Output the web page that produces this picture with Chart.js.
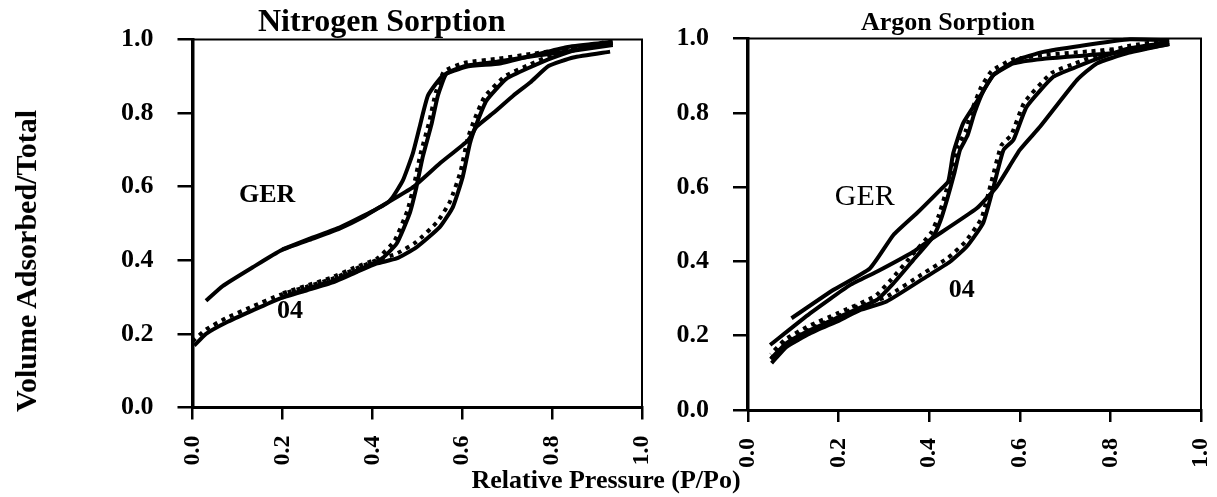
<!DOCTYPE html>
<html>
<head>
<meta charset="utf-8">
<script src="https://cdn.jsdelivr.net/npm/chart.js@4.4.1/dist/chart.umd.min.js"></script>
<style>
  body { margin: 0; background: #fff; }
  #wrap { position: relative; width: 1217px; height: 497px; overflow: hidden; font-family: "Liberation Serif", serif; color: #000; }
  .box { position: absolute; top: 0; }
  .txt { position: absolute; font-weight: bold; white-space: nowrap; line-height: 1; }
</style>
</head>
<body>
<div id="wrap">
  <div class="box" style="left:0;width:660px;height:497px"><canvas id="nitro"></canvas></div>
  <div class="box" style="left:660px;width:557px;height:497px"><canvas id="argon"></canvas></div>
  <div class="txt" id="t1" style="font-size:32px">Nitrogen Sorption</div>
  <div class="txt" id="t2" style="font-size:26px">Argon Sorption</div>
  <div class="txt" id="xt" style="font-size:26px">Relative Pressure (P/Po)</div>
  <div class="txt" id="yt" style="font-size:30px">Volume Adsorbed/Total</div>
</div>
<script>
// Nitrogen sorption, sample GER
var n2GerAdsP = [0.03, 0.067, 0.134, 0.197, 0.268, 0.327, 0.379, 0.423, 0.49, 0.55, 0.613, 0.632, 0.669, 0.714, 0.752, 0.792, 0.847, 0.929];
var n2GerAdsV = [0.29, 0.33, 0.381, 0.427, 0.459, 0.486, 0.517, 0.549, 0.598, 0.663, 0.726, 0.763, 0.80, 0.848, 0.884, 0.928, 0.951, 0.967];
var n2GerDesP = [0.935, 0.906, 0.832, 0.758, 0.684, 0.609, 0.557, 0.524, 0.505, 0.49, 0.468, 0.445, 0.431, 0.379, 0.327, 0.268, 0.2];
var n2GerDesV = [0.994, 0.99, 0.979, 0.957, 0.935, 0.926, 0.902, 0.848, 0.761, 0.69, 0.617, 0.571, 0.554, 0.52, 0.489, 0.462, 0.43];
// Nitrogen sorption, sample 04 (solid and dashed runs)
var n2S04AdsP = [0.004, 0.03, 0.075, 0.134, 0.194, 0.253, 0.312, 0.365, 0.409, 0.454, 0.498, 0.55, 0.579, 0.601, 0.617, 0.632, 0.654, 0.698, 0.75, 0.802, 0.862, 0.935];
var n2S04AdsV = [0.168, 0.2, 0.231, 0.264, 0.296, 0.318, 0.34, 0.368, 0.391, 0.405, 0.435, 0.49, 0.544, 0.626, 0.717, 0.771, 0.834, 0.893, 0.924, 0.951, 0.975, 0.99];
var n2S04DesP = [0.935, 0.85, 0.76, 0.68, 0.609, 0.565, 0.546, 0.532, 0.512, 0.498, 0.483, 0.454, 0.416, 0.365, 0.312, 0.253, 0.2];
var n2S04DesV = [0.985, 0.97, 0.955, 0.94, 0.929, 0.907, 0.848, 0.771, 0.68, 0.598, 0.527, 0.445, 0.399, 0.372, 0.344, 0.322, 0.30];
var n2S04bAdsP = [0.0, 0.03, 0.075, 0.134, 0.194, 0.253, 0.312, 0.365, 0.409, 0.454, 0.498, 0.545, 0.573, 0.596, 0.612, 0.627, 0.65, 0.695, 0.75, 0.80, 0.86, 0.93];
var n2S04bAdsV = [0.18, 0.212, 0.243, 0.275, 0.306, 0.328, 0.35, 0.378, 0.40, 0.418, 0.45, 0.505, 0.56, 0.64, 0.73, 0.782, 0.845, 0.9, 0.932, 0.958, 0.98, 0.995];
var n2S04bDesP = [0.93, 0.85, 0.76, 0.68, 0.606, 0.56, 0.541, 0.527, 0.507, 0.493, 0.478, 0.449, 0.411, 0.36, 0.307, 0.25, 0.2];
var n2S04bDesV = [0.99, 0.977, 0.962, 0.948, 0.937, 0.914, 0.855, 0.778, 0.688, 0.606, 0.535, 0.452, 0.405, 0.38, 0.352, 0.33, 0.31];

// Argon sorption, sample GER
var arGerAdsP = [0.049, 0.137, 0.225, 0.284, 0.365, 0.402, 0.505, 0.549, 0.60, 0.645, 0.726, 0.77, 0.836, 0.93];
var arGerAdsV = [0.175, 0.26, 0.336, 0.372, 0.426, 0.458, 0.543, 0.601, 0.70, 0.763, 0.888, 0.933, 0.96, 0.985];
var arGerDesP = [0.93, 0.843, 0.733, 0.652, 0.593, 0.542, 0.512, 0.475, 0.453, 0.442, 0.424, 0.372, 0.321, 0.269, 0.188, 0.096];
var arGerDesV = [0.995, 0.998, 0.98, 0.964, 0.942, 0.902, 0.843, 0.772, 0.691, 0.615, 0.592, 0.529, 0.471, 0.381, 0.323, 0.247];
// Argon sorption, sample 04 (solid and dashed runs)
var arS04AdsP = [0.052, 0.085, 0.137, 0.203, 0.247, 0.306, 0.394, 0.446, 0.483, 0.519, 0.542, 0.564, 0.586, 0.615, 0.674, 0.726, 0.784, 0.843, 0.93];
var arS04AdsV = [0.126, 0.17, 0.206, 0.242, 0.269, 0.292, 0.359, 0.399, 0.44, 0.503, 0.601, 0.70, 0.727, 0.816, 0.897, 0.924, 0.951, 0.974, 0.99];
var arS04DesP = [0.93, 0.84, 0.75, 0.65, 0.586, 0.542, 0.52, 0.50, 0.485, 0.468, 0.455, 0.439, 0.425, 0.409, 0.365, 0.321, 0.284, 0.2, 0.137, 0.085, 0.052];
var arS04DesV = [0.985, 0.965, 0.955, 0.945, 0.933, 0.902, 0.86, 0.80, 0.74, 0.70, 0.635, 0.565, 0.51, 0.467, 0.404, 0.341, 0.296, 0.25, 0.215, 0.18, 0.14];
var arS04bAdsP = [0.05, 0.083, 0.135, 0.2, 0.244, 0.303, 0.39, 0.442, 0.479, 0.515, 0.537, 0.559, 0.581, 0.61, 0.67, 0.722, 0.78, 0.84, 0.925];
var arS04bAdsV = [0.137, 0.181, 0.217, 0.253, 0.28, 0.303, 0.37, 0.41, 0.452, 0.515, 0.613, 0.712, 0.74, 0.828, 0.907, 0.933, 0.959, 0.98, 0.995];
var arS04bDesP = [0.925, 0.84, 0.75, 0.65, 0.583, 0.538, 0.515, 0.495, 0.48, 0.463, 0.45, 0.434, 0.42, 0.404, 0.36, 0.316, 0.28, 0.197, 0.134, 0.082, 0.05];
var arS04bDesV = [0.99, 0.975, 0.965, 0.955, 0.943, 0.913, 0.87, 0.81, 0.75, 0.71, 0.645, 0.575, 0.52, 0.477, 0.414, 0.351, 0.306, 0.26, 0.226, 0.19, 0.15];

var xTicks = [0, 0.2, 0.4, 0.6, 0.8, 1.0];
var yTicks = [0, 0.2, 0.4, 0.6, 0.8, 1.0];

var n2Notes = [
  { text: 'GER', x: 0.166, y: 0.558, font: 'bold 26px "Liberation Serif"' },
  { text: '04', x: 0.217, y: 0.243, font: 'bold 26px "Liberation Serif"' }
];
var arNotes = [
  { text: 'GER', x: 0.258, y: 0.552, font: '30px "Liberation Serif"' },
  { text: '04', x: 0.472, y: 0.304, font: 'bold 26px "Liberation Serif"' }
];

function pts(xs, ys) {
  return xs.map(function(x, i) { return { x: x, y: ys[i] }; });
}

function solid(xs, ys) {
  return { data: pts(xs, ys), showLine: true, borderColor: '#000', borderWidth: 4,
           pointRadius: 0, tension: 0.15, clip: 8 };
}

function dashed(xs, ys) {
  return { data: pts(xs, ys), showLine: true, borderColor: '#000', borderWidth: 4,
           borderDash: [4, 5], borderCapStyle: 'butt', pointRadius: 0, tension: 0.15, clip: 8 };
}

var framePlugin = {
  id: 'frame',
  afterDraw: function(chart, args, opts) {
    var a = chart.chartArea, ctx = chart.ctx;
    ctx.save();
    ctx.strokeStyle = '#000';
    ctx.lineWidth = 2;
    ctx.beginPath();
    ctx.moveTo(a.left, a.top);
    ctx.lineTo(a.right, a.top);
    ctx.lineTo(a.right, a.bottom);
    ctx.stroke();
    ctx.fillStyle = '#000';
    ctx.textAlign = 'center';
    ctx.textBaseline = 'alphabetic';
    opts.notes.forEach(function(n) {
      ctx.font = n.font;
      ctx.fillText(n.text, chart.scales.x.getPixelForValue(n.x), chart.scales.y.getPixelForValue(n.y));
    });
    ctx.restore();
  }
};

function makeChart(id, sets, notes, yWidth, xHeight, padTop, padRight) {
  var font = { family: 'Liberation Serif', weight: 'bold' };
  return new Chart(document.getElementById(id), {
    type: 'scatter',
    data: { datasets: sets },
    options: {
      responsive: true,
      maintainAspectRatio: false,
      animation: false,
      layout: { padding: { top: padTop, right: padRight, bottom: 0, left: 0 } },
      plugins: { legend: { display: false }, tooltip: { enabled: false }, frame: { notes: notes } },
      scales: {
        x: {
          type: 'linear', min: 0, max: 1,
          afterBuildTicks: function(s) { s.ticks = xTicks.map(function(v) { return { value: v }; }); },
          afterFit: function(s) { s.height = xHeight; s.paddingLeft = 0; s.paddingRight = 0; },
          ticks: { callback: function(v) { return v.toFixed(1); }, minRotation: 90, maxRotation: 90,
                   autoSkip: false, padding: 16, color: '#000', font: Object.assign({ size: 24 }, font) },
          grid: { drawOnChartArea: false, drawTicks: true, tickLength: 12, tickColor: '#000', lineWidth: 2.5 },
          border: { display: true, color: '#000', width: 3 }
        },
        y: {
          type: 'linear', min: 0, max: 1,
          afterBuildTicks: function(s) { s.ticks = yTicks.map(function(v) { return { value: v }; }); },
          afterFit: function(s) { s.width = yWidth; s.paddingTop = 0; s.paddingBottom = 0; },
          ticks: { callback: function(v) { return v.toFixed(1); }, padding: 24, color: '#000',
                   font: Object.assign({ size: 26 }, font) },
          grid: { drawOnChartArea: false, drawTicks: true, tickLength: 15, tickColor: '#000', lineWidth: 2.5 },
          border: { display: true, color: '#000', width: 3.5 }
        }
      }
    },
    plugins: [framePlugin]
  });
}

makeChart('nitro', [
  solid(n2GerAdsP, n2GerAdsV),
  solid(n2GerDesP, n2GerDesV),
  solid(n2S04AdsP, n2S04AdsV),
  solid(n2S04DesP, n2S04DesV),
  dashed(n2S04bAdsP, n2S04bAdsV),
  dashed(n2S04bDesP, n2S04bDesV)
], n2Notes, 192.5, 89.5, 39.5, 18);

makeChart('argon', [
  solid(arGerAdsP, arGerAdsV),
  solid(arGerDesP, arGerDesV),
  solid(arS04AdsP, arS04AdsV),
  solid(arS04DesP, arS04DesV),
  dashed(arS04bAdsP, arS04bAdsV),
  dashed(arS04bDesP, arS04bDesV)
], arNotes, 88, 87, 38.5, 16);

// free text placed around the plots
function place(id, cx, baseline, rotate) {
  var el = document.getElementById(id);
  var w = el.offsetWidth, h = el.offsetHeight;
  if (rotate) {
    el.style.left = (cx - w / 2) + 'px';
    el.style.top = (baseline - h / 2) + 'px';
    el.style.transform = 'rotate(-90deg)';
  } else {
    el.style.left = (cx - w / 2) + 'px';
    el.style.top = (baseline - h * 0.89) + 'px';
  }
}
place('t1', 381.5, 32);
place('t2', 948, 32);
place('xt', 606, 490);
place('yt', 26, 261, true);
</script>
</body>
</html>
